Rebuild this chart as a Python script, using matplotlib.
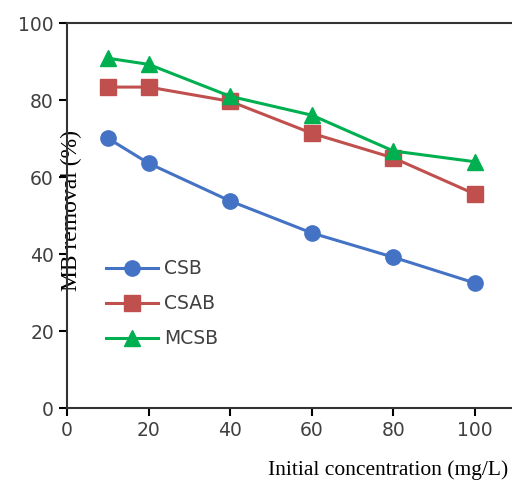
# MB removal vs initial concentration for the three adsorbents

import matplotlib.pyplot as plt

conc = [10, 20, 40, 60, 80, 100]
csb = [70.1, 63.6, 53.8, 45.5, 39.2, 32.5]
csab = [83.4, 83.4, 79.7, 71.4, 65.0, 55.6]
mcsb = [90.9, 89.3, 81.0, 76.1, 66.8, 64.0]

x_ticks = [0, 20, 40, 60, 80, 100]
y_ticks = [0, 20, 40, 60, 80, 100]

fig = plt.figure(figsize=(5.12, 4.83), dpi=100)
ax = fig.add_axes([0.131, 0.155, 0.956, 0.797])

ax.plot(conc, csb, color='#4472C4', marker='o', markersize=11, linewidth=2.2, label='CSB')
ax.plot(conc, csab, color='#C0504D', marker='s', markersize=11, linewidth=2.2, label='CSAB')
ax.plot(conc, mcsb, color='#00B050', marker='^', markersize=12, linewidth=2.2, label='MCSB')

ax.set_xlim(0, 120)
ax.set_ylim(0, 100)
ax.set_xticks(x_ticks)
ax.set_yticks(y_ticks)
ax.tick_params(labelsize=13.5, labelcolor='#404040', length=6, width=1.5, direction='out')
ax.spines['right'].set_visible(False)
for s in ['left', 'bottom', 'top']:
    ax.spines[s].set_linewidth(1.5)
    ax.spines[s].set_color('#333333')

# y label sits on top of the axis line, like in the original figure
ax.set_ylabel('MB removal (%)', family='Liberation Serif', fontsize=17, va='center')
ax.yaxis.set_label_coords(0.008, 0.514)
ax.set_xlabel('Initial concentration (mg/L)', family='Liberation Serif', fontsize=15.5,
              ha='left', va='center')
ax.xaxis.set_label_coords(0.41, -0.161)

ax.legend(loc='upper left', bbox_to_anchor=(0.045, 0.43), frameon=False,
          handlelength=2.8, labelspacing=0.85, handletextpad=0.3,
          prop={'size': 13.5})
for t in ax.get_legend().get_texts():
    t.set_color('#404040')

fig.savefig('out.png', dpi=100)
